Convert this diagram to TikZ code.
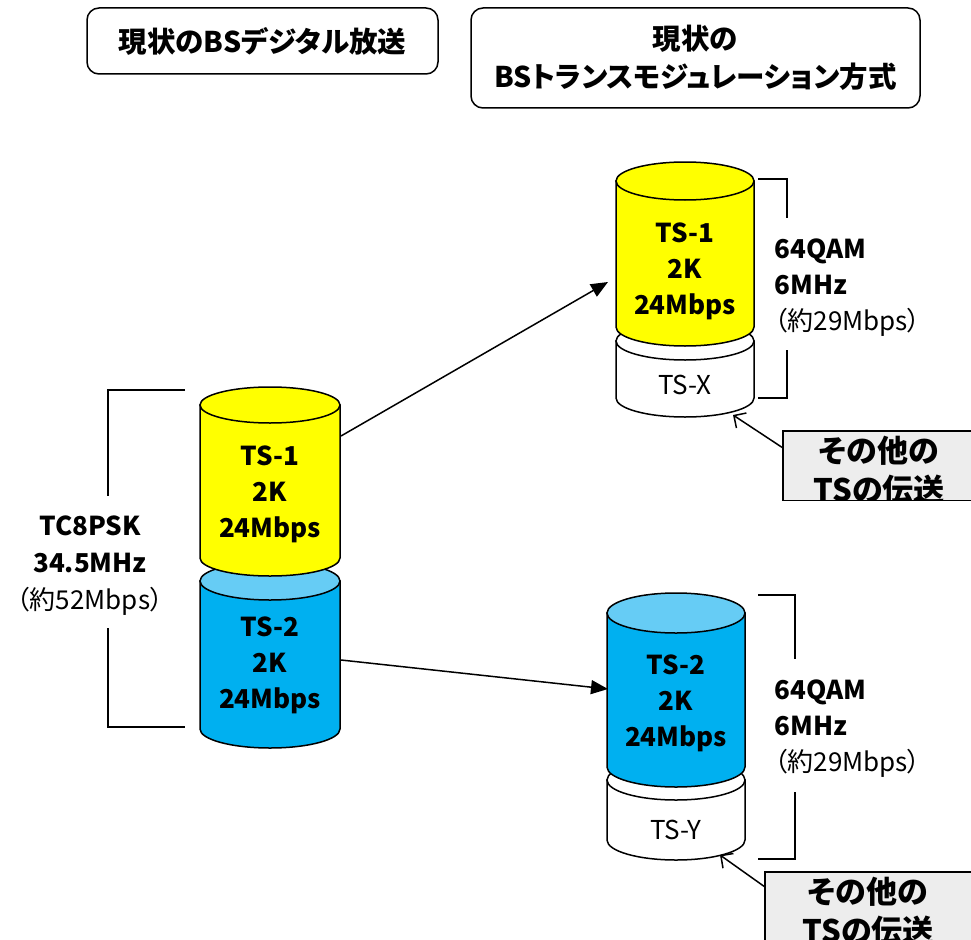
\documentclass[tikz,border=0pt]{standalone}
\usepackage{fontspec}
\setmainfont{Noto Sans CJK JP}[RawFeature=+palt]
\usetikzlibrary{arrows.meta,
                positioning, % For easy node-relative placements
               }
\definecolor{tsyellow}{HTML}{FFFF00}
\definecolor{tsblue}{HTML}{00B0F0}
\definecolor{tsbluetop}{HTML}{66CCF5}
\definecolor{othergray}{HTML}{EDEDED}

\tikzstyle{title} = [rectangle, rounded corners=12pt, draw=black, line width=1.5pt, inner sep=0pt, align=center, font=\fontsize{28.5}{38}\selectfont\bfseries]
\tikzstyle{ts} = [align=center, font=\fontsize{26}{36}\selectfont\bfseries]
\tikzstyle{spare} = [font=\fontsize{26}{36}\selectfont]
\tikzstyle{spec} = [align=left, anchor=west, font=\fontsize{26}{36}\selectfont]
\tikzstyle{specc} = [align=center, font=\fontsize{26}{37}\selectfont]
\tikzstyle{others} = [rectangle, fill=othergray, inner sep=0pt, anchor=north west]
\tikzstyle{othertext} = [align=center, font=\fontsize{31}{39}\selectfont\bfseries]
\tikzstyle{feed} = [-{Triangle[length=17pt,width=14pt]}, line width=1.5pt]
\tikzstyle{hint} = [-{Straight Barb[length=9pt,width=18pt]}, line width=1.5pt]
\tikzstyle{bracket} = [line width=1.5pt]

% cylinder: centre x, top y, bottom y, x radius, y radius, body colour, top colour
\newcommand{\drum}[7]{%
  \filldraw[line width=1.5pt, fill=#6] ({#1-#4},#2) -- ({#1-#4},#3) arc (180:0:#4 and #5) -- ({#1+#4},#2) -- cycle;
  \filldraw[line width=1.5pt, fill=#7] (#1,#2) ellipse (#4 and #5);
}

\begin{document}
\begin{tikzpicture}[x=1pt, y=-1pt]
  \useasboundingbox (0,0) rectangle (971,939);

  % headings
  \node (cur) [title, minimum width=351pt, minimum height=66pt] at (262.5,41) {現状のBSデジタル放送};
  \node (trans) [title, minimum width=449pt, minimum height=100pt] at (695.5,58) {現状の\\BSトランスモジュレーション方式};

  % left stack
  \drum{270}{581}{729}{70}{19}{tsblue}{tsbluetop}
  \drum{270}{405}{558}{70}{18}{tsyellow}{tsyellow}
  \node (l1) [ts] at (270,494) {TS-1\\2K\\24Mbps};
  \node (l2) [ts] at (270,665) {TS-2\\2K\\24Mbps};
  \draw [bracket] (185,390) -| (108,496);
  \draw [bracket] (108,628) |- (185,727);
  \node (lspec) [specc] at (90,566) {{\bfseries TC8PSK}\\{\bfseries 34.5MHz}\\（約52Mbps）};

  % upper right stack
  \drum{685}{341}{398}{69}{19}{white}{white}
  \drum{685}{181}{327}{69}{19}{tsyellow}{tsyellow}
  \node (r1) [ts] at (685,271) {TS-1\\2K\\24Mbps};
  \node (rx) [spare] at (685,385) {TS-X};
  \draw [bracket] (758,179) -| (787,218);
  \draw [bracket] (787,350) |- (758,398);
  \node (rspec1) [spec] at (771,288) {{\bfseries 64QAM}\\{\bfseries 6MHz}\\（約29Mbps）};

  % lower right stack
  \drum{676}{780}{840}{69}{20}{white}{white}
  \drum{676}{613}{767}{69}{20}{tsblue}{tsbluetop}
  \node (r2) [ts] at (676,703) {TS-2\\2K\\24Mbps};
  \node (ry) [spare] at (676,830) {TS-Y};
  \draw [bracket] (758,595) -| (795,659);
  \draw [bracket] (795,792) |- (758,859);
  \node (rspec2) [spec] at (771,729) {{\bfseries 64QAM}\\{\bfseries 6MHz}\\（約29Mbps）};

  % transmodulation arrows
  \coordinate (src1) at (341,436);
  \coordinate (dst1) at (608,282);
  \coordinate (src2) at (341,660);
  \coordinate (dst2) at (608,689);
  \draw [feed] (src1) -- (dst1);
  \draw [feed] (src2) -- (dst2);

  % other TS notes
  \node (oth1) [others, minimum width=195pt, minimum height=69pt] at (783,431) {};
  \begin{scope}
    \clip (oth1.north west) rectangle (oth1.south east);
    \node (oth1txt) [othertext] at (879,470) {その他の\\TSの伝送};
  \end{scope}
  \draw [bracket] (oth1.north west) rectangle (oth1.south east);
  \coordinate (tx) at (733,415);
  \draw [hint] ([yshift=-17pt]oth1.north west) -- (tx);

  \node (oth2) [others, minimum width=210pt, minimum height=75pt] at (765,872) {};
  \node (oth2txt) [othertext] at (868,911) {その他の\\TSの伝送};
  \draw [bracket] (oth2.north west) rectangle (oth2.south east);
  \coordinate (ty) at (720,855);
  \draw [hint] ([yshift=-15pt]oth2.north west) -- (ty);
\end{tikzpicture}
\end{document}
